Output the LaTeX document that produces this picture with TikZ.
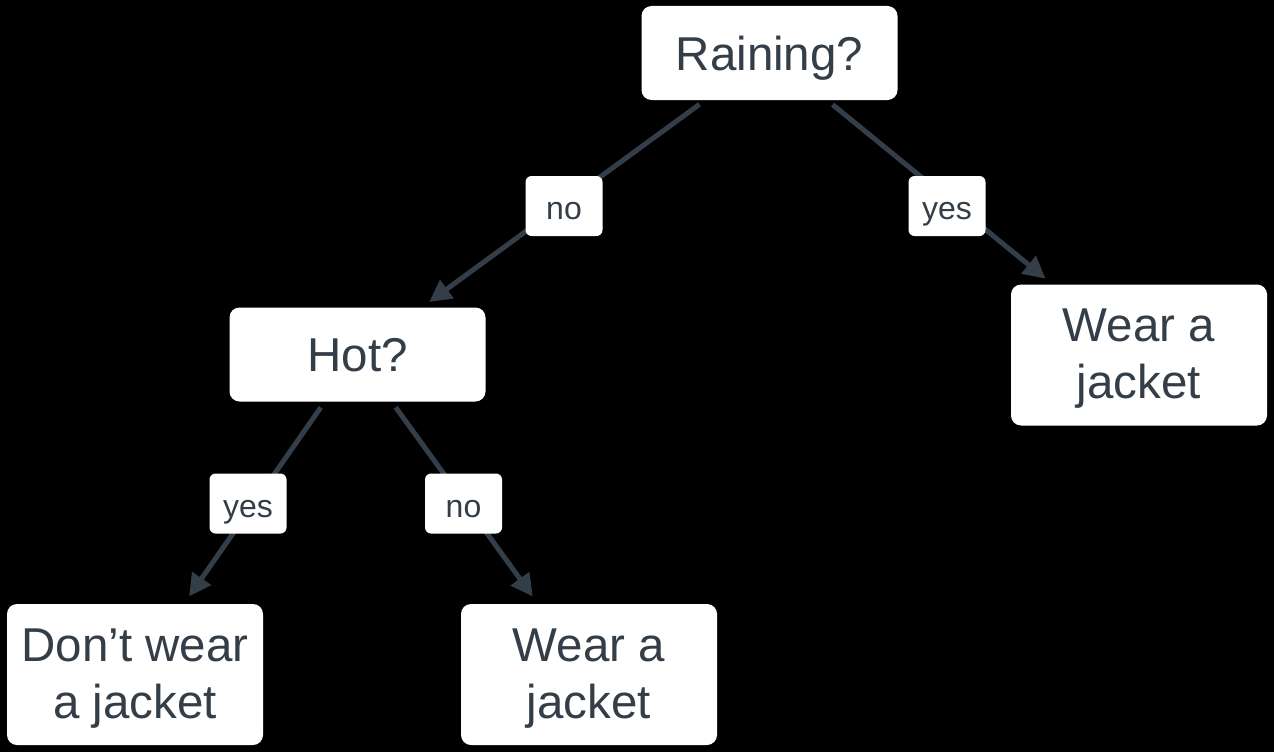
\documentclass[tikz,border=0pt]{standalone}
\usepackage{fontspec}
\setmainfont{Liberation Sans}
\usetikzlibrary{calc,arrows.meta}
\definecolor{ink}{RGB}{52,62,72}
\begin{document}
\begin{tikzpicture}[x=1pt,y=-1pt,
  box/.style={fill=white,rounded corners=10pt,minimum width=256pt,text=ink,
    font=\fontsize{47.5}{57}\selectfont,align=center,inner sep=0pt},
  onebox/.style={box,minimum height=94pt,text depth=0pt},
  twobox/.style={box,minimum height=141pt},
  twotext/.style={text=ink,font=\fontsize{47.5}{57}\selectfont,align=center,inner sep=0pt,yshift=-4pt},
  lbl/.style={fill=white,rounded corners=6pt,minimum width=77pt,minimum height=60pt,
    text=ink,font=\fontsize{32}{38}\selectfont,inner sep=0pt,text height=27pt,text depth=0pt},
  edge/.style={draw=ink,line width=5pt,-{Triangle[length=22pt,width=22pt]},
    shorten <=7pt,shorten >=9pt}]
\fill[black] (0,0) rectangle (1274,752);
\useasboundingbox (0,0) rectangle (1274,752);
\node[onebox] (rain) at (769.5,53) {Raining?};
\node[onebox] (hot) at (357.5,354.5) {Hot?};
\node[twobox] (wr) at (1139,355) {};
\node[twobox] (dont) at (135,674.5) {};
\node[twobox] (wm) at (589,674.5) {};
\node[twotext] (wrt) at (wr) {Wear a\\jacket};
\node[twotext] (dontt) at (dont) {Don’t wear\\a jacket};
\node[twotext] (wmt) at (wm) {Wear a\\jacket};
\draw[edge] (rain) -- (hot);
\draw[edge] (rain) -- (wr);
\draw[edge] (hot) -- (dont);
\draw[edge] (hot) -- (wm);
\node[lbl] (l1) at (564,206) {no};
\node[lbl] (l2) at (947,206) {yes};
\node[lbl] (l3) at (248,503.5) {yes};
\node[lbl] (l4) at (463.5,503.5) {no};
\end{tikzpicture}
\end{document}
